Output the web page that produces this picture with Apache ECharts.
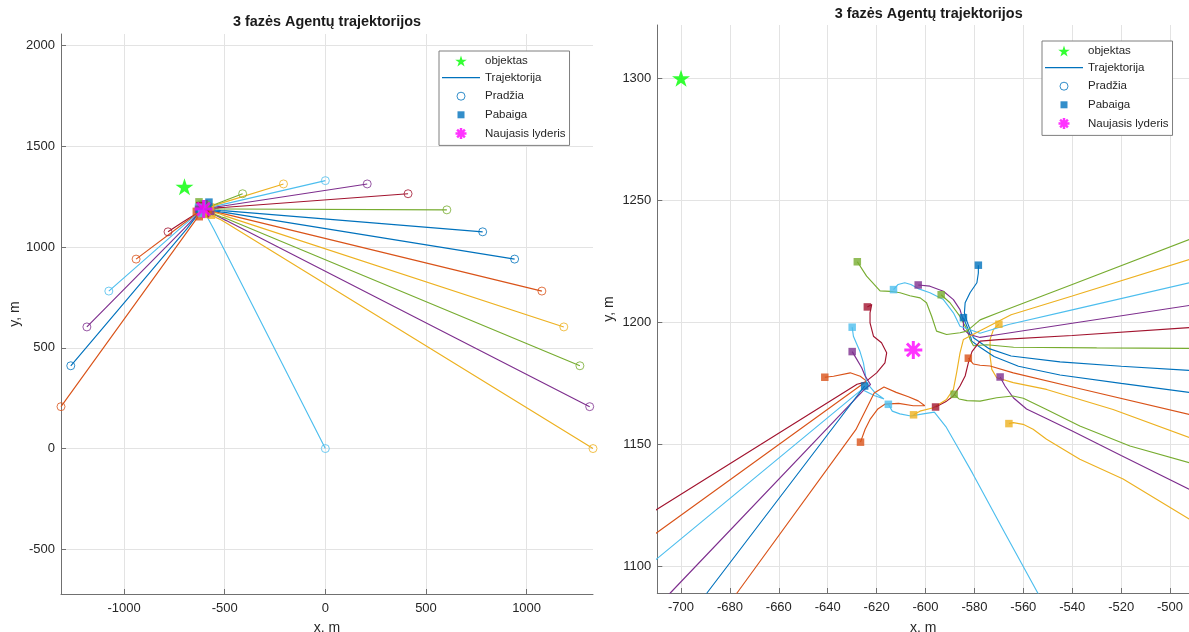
<!DOCTYPE html>
<html>
<head>
<meta charset="utf-8">
<script src="https://cdn.jsdelivr.net/npm/echarts@6.0.0/dist/echarts.min.js"></script>
<style>
  html, body { margin: 0; padding: 0; background: #ffffff; }
  #chart { width: 1189px; height: 632px; }
</style>
</head>
<body>
<div id="chart"></div>
<script>
// Agent trajectories, [x, y] in metres: first point = start, last point = final position.
const agent01 = [[1330, 0], [-492.2, 1119.4], [-519.2, 1135.8], [-536.9, 1143.9], [-550.5, 1152.1], [-556, 1156.2], [-560.1, 1158.2], [-564.1, 1158.9], [-565.9, 1158.5]];
const agent02 = [[1313.6, 208], [-492.2, 1131.6], [-520, 1145.4], [-540, 1155.5], [-551, 1160.8], [-558.7, 1164.5], [-564.1, 1169.1], [-567.5, 1173.9], [-569.5, 1177.6]];
const agent03 = [[1265, 411], [-492.2, 1142.5], [-516.4, 1149.3], [-536.9, 1157.5], [-550.5, 1164.3], [-560, 1168.9], [-564.3, 1169.8], [-570.9, 1169.1], [-577.7, 1167.7], [-583, 1167.9], [-586.3, 1168.6], [-588.3, 1170.5]];
const agent04 = [[1185, 603.8], [-492.2, 1152.8], [-523.3, 1164.3], [-550.5, 1172.5], [-564.1, 1175.3], [-570.9, 1177.3], [-572.9, 1180.7], [-573.6, 1186.1], [-573.6, 1193], [-572.2, 1197.1], [-570, 1199.2]];
const agent05 = [[1076, 781.8], [-492.2, 1162.3], [-536.8, 1172.8], [-564.1, 1179.3], [-573.6, 1182.1], [-577.7, 1182.4], [-580.4, 1182.9], [-582.5, 1185.3]];
const agent06 = [[940.5, 940.5], [-492.2, 1171.3], [-520, 1175], [-545, 1178.4], [-562, 1182], [-572, 1186], [-578, 1190], [-581.1, 1192.3], [-581.8, 1195], [-583.1, 1198.4], [-584.5, 1201.9]];
const agent07 = [[781.8, 1076], [-492.2, 1180.3], [-520, 1182], [-545, 1183.8], [-565, 1186.2], [-574, 1189.2], [-580.4, 1193.7], [-581.8, 1197.1], [-583.1, 1200.5], [-584.1, 1203.9], [-583.8, 1208], [-581.8, 1212.1], [-579, 1216.2], [-578.4, 1220.2], [-578.4, 1223.4]];
const agent08 = [[603.8, 1185], [-492.2, 1189.3], [-530, 1189.5], [-564, 1189.8], [-575, 1190.8], [-580.4, 1190.4], [-581.8, 1193], [-583.1, 1197.1], [-586, 1202.5], [-590, 1208], [-593.6, 1211.3]];
const agent09 = [[411, 1265], [-492.2, 1197.8], [-540, 1194.6], [-570, 1192.9], [-577.7, 1192.3], [-581, 1188], [-582.5, 1183.4], [-583.8, 1178], [-585.9, 1173.9], [-588.6, 1169.8], [-591.4, 1167.7], [-595.9, 1165.3]];
const agent10 = [[208, 1313.6], [-492.2, 1206.9], [-540, 1199.6], [-570, 1195], [-577.7, 1193.8], [-582, 1195], [-584.5, 1197.1], [-584.5, 1200.5], [-585.9, 1205.2], [-588.6, 1209.3], [-592.7, 1212.7], [-598.2, 1214.8], [-603, 1215.3]];
const agent11 = [[0, 1330], [-492.2, 1216.2], [-540, 1205.1], [-566, 1199.1], [-577.7, 1195.5], [-585.9, 1198.4], [-588.6, 1203.9], [-592.7, 1209.3], [-598.2, 1212.1], [-603, 1213.8], [-606, 1215.5], [-608.5, 1216.2], [-611.2, 1215.5], [-613.1, 1213.4]];
const agent12 = [[-208, 1313.6], [-492.2, 1225.7], [-540, 1210.8], [-565, 1203.1], [-577.7, 1196.5], [-584.5, 1193], [-585.9, 1187.5], [-587.3, 1179.3], [-588.6, 1172.5], [-591.4, 1168.4], [-596.8, 1165], [-602.3, 1163.6], [-604.9, 1162.1]];
const agent13 = [[-411, 1265], [-492.2, 1233.9], [-540, 1215.5], [-570, 1204], [-577.7, 1201], [-583.1, 1196.4], [-585.9, 1195.7], [-591.4, 1195], [-595.5, 1196.4], [-597.5, 1202.5], [-599.6, 1208], [-602.2, 1210], [-606.4, 1210.9], [-610.4, 1212.1], [-614.5, 1212.7], [-618.6, 1212.9], [-624.1, 1218.9], [-627.9, 1224.8]];
const agent14 = [[-781.8, 1076], [-709.8, 1123.4], [-628, 1174.6], [-624.7, 1175.5], [-620, 1179.3], [-616.6, 1183.4], [-615.9, 1187.5], [-618, 1191.6], [-621.3, 1194.3], [-622.7, 1199.8], [-622.7, 1203.9], [-622, 1207.3], [-623.8, 1206.3]];
const agent15 = [[-940.5, 940.5], [-709.8, 1113.9], [-626, 1174.5], [-624.1, 1175.9], [-626.7, 1177.9], [-630.8, 1179.3], [-637.6, 1177.9], [-641.2, 1177.5]];
const agent16 = [[-1076, 781.8], [-709.8, 1103.2], [-626, 1172.5], [-621, 1170], [-617, 1168.6], [-620.5, 1171], [-624.1, 1175.2], [-624.7, 1179.3], [-625.4, 1183.4], [-626.8, 1188], [-628.1, 1191], [-629.5, 1194.3], [-630, 1198]];
const agent17 = [[-1185, 603.8], [-704.4, 1089.1], [-625, 1172.5], [-622.5, 1174.5], [-624.7, 1178], [-626.1, 1181.4], [-628.1, 1184.8], [-630, 1188]];
const agent18 = [[-1265, 411], [-689.4, 1089.1], [-624.9, 1173.9]];
const agent19 = [[-1313.6, 208], [-677.1, 1089.1], [-628.5, 1156], [-624, 1165], [-621, 1171], [-617, 1173.5], [-612, 1171.3], [-607, 1169.5], [-603, 1167.8], [-600.3, 1165.8], [-605, 1165.8], [-611, 1166.8], [-616.5, 1166.5], [-619.5, 1164.5], [-622.7, 1160.2], [-624.7, 1156.2], [-626.6, 1150.9]];
const agent20 = [[0, 0], [-554.1, 1089.1], [-567.5, 1113.6], [-580.8, 1138.2], [-587, 1149.1], [-591.7, 1157.3], [-596.4, 1163.2], [-601, 1162.5], [-606, 1161.6], [-610.5, 1162.5], [-613.6, 1163.6], [-615.2, 1166.4]];

// Target object and the new leader
const objektas = [[-700, 1300]];
const naujasisLyderis = [[-605, 1188.7]];

// Axis tick values
const xTicksFull = [-1000, -500, 0, 500, 1000];
const yTicksFull = [-500, 0, 500, 1000, 1500, 2000];
const xTicksZoom = [-700, -680, -660, -640, -620, -600, -580, -560, -540, -520, -500];
const yTicksZoom = [1100, 1150, 1200, 1250, 1300];

const agents = [agent01, agent02, agent03, agent04, agent05, agent06, agent07, agent08, agent09, agent10,
                agent11, agent12, agent13, agent14, agent15, agent16, agent17, agent18, agent19, agent20];

// MATLAB default line colour order
const C_BLUE = '#0072BD', C_ORANGE = '#D95319', C_YELLOW = '#EDB120', C_PURPLE = '#7E2F8E',
      C_GREEN = '#77AC30', C_CYAN = '#4DBEEE', C_RED = '#A2142F';
const agentColors = [C_YELLOW, C_PURPLE, C_GREEN, C_YELLOW, C_ORANGE, C_BLUE, C_BLUE, C_GREEN, C_RED, C_PURPLE,
                     C_CYAN, C_YELLOW, C_GREEN, C_RED, C_ORANGE, C_CYAN, C_PURPLE, C_BLUE, C_ORANGE, C_CYAN];

const FONT = '"Liberation Sans", Arial, Helvetica, sans-serif';
const TEXT = '#262626';
const AXIS = '#707070';
const GRIDLINE = '#e3e3e3';

const STAR = 'path://M0,-10L2.245,-3.09L9.511,-3.09L3.633,1.18L5.878,8.09L0,3.82L-5.878,8.09L-3.633,1.18L-9.511,-3.09L-2.245,-3.09Z';
const ASTERISK = 'path://M0,-10L0,10M-10,0L10,0M-7.07,-7.07L7.07,7.07M-7.07,7.07L7.07,-7.07';
const LEGEND_LINE = 'path://M0,0L38,0L38,1.3L0,1.3Z';
const LEGEND_CIRCLE = 'path://M-5.5,-5.5M5.5,5.5M4,0A4,4,0,1,1,-4,0A4,4,0,1,1,4,0Z';
const LEGEND_SQUARE = 'path://M-5.5,-5.5M5.5,5.5M-3.5,-3.5L3.5,-3.5L3.5,3.5L-3.5,3.5Z';

function valueAxis(gridIndex, min, max, ticks, name, isX) {
  return {
    type: 'value', gridIndex, min, max,
    name, nameLocation: 'middle',
    nameGap: isX ? (gridIndex === 0 ? 27 : 28) : (gridIndex === 0 ? 39 : 41),
    nameRotate: isX ? 0 : 90,
    nameTextStyle: { color: TEXT, fontSize: 14, fontFamily: FONT },
    axisLine: { show: true, onZero: false, lineStyle: { color: AXIS, width: 1 } },
    axisTick: { show: true, inside: true, length: 5, customValues: ticks, lineStyle: { color: AXIS, width: 1 } },
    axisLabel: { show: true, customValues: ticks, color: TEXT, fontSize: 13, fontFamily: FONT,
                 margin: isX ? 8 : 6, formatter: v => String(v) },
    splitLine: { show: true, lineStyle: { color: GRIDLINE, width: 1 } }
  };
}

function seriesFor(g) {
  const out = [];
  out.push({
    name: 'objektas', type: 'scatter', xAxisIndex: g, yAxisIndex: g,
    symbol: STAR, symbolSize: [18, 17], data: objektas,
    itemStyle: { color: '#00FF00' }, z: 3, silent: true
  });
  agents.forEach((pts, i) => {
    out.push({
      name: i === 5 ? 'Trajektorija' : 'agentas ' + (i + 1),
      type: 'line', xAxisIndex: g, yAxisIndex: g, data: pts,
      symbol: 'none', showSymbol: false, clip: true,
      lineStyle: { color: agentColors[i], width: 1.15 },
      itemStyle: { color: agentColors[i] }, z: 2, silent: true
    });
  });
  out.push({
    name: 'Pradžia', type: 'scatter', xAxisIndex: g, yAxisIndex: g,
    symbol: 'circle', symbolSize: 8, clip: true,
    data: agents.map((pts, i) => ({ value: pts[0], itemStyle: { borderColor: agentColors[i] } })),
    itemStyle: { color: 'rgba(255,255,255,0)', borderColor: C_BLUE, borderWidth: 1 }, z: 3, silent: true
  });
  out.push({
    name: 'Pabaiga', type: 'scatter', xAxisIndex: g, yAxisIndex: g,
    symbol: 'rect', symbolSize: 7.5, clip: true,
    data: agents.map((pts, i) => ({ value: pts[pts.length - 1], itemStyle: { color: agentColors[i] } })),
    itemStyle: { color: C_BLUE }, z: 4, silent: true
  });
  out.push({
    name: 'Naujasis lyderis', type: 'scatter', xAxisIndex: g, yAxisIndex: g,
    symbol: ASTERISK, symbolSize: 18, data: naujasisLyderis,
    itemStyle: { color: 'none', borderColor: '#FF00FF', borderWidth: 3 }, z: 5, silent: true
  });
  return out;
}

function legendAt(left, top) {
  return {
    left, top, orient: 'vertical',
    itemWidth: 38, itemHeight: 11, itemGap: 4.6,
    padding: [4, 4, 4, 3],
    borderColor: '#7f7f7f', borderWidth: 1, backgroundColor: '#ffffff',
    selectedMode: false,
    textStyle: { color: TEXT, fontSize: 11.5, fontFamily: FONT, lineHeight: 11 },
    data: [
      { name: 'objektas', icon: STAR, itemStyle: { color: '#00FF00', borderWidth: 0 } },
      { name: 'Trajektorija', icon: LEGEND_LINE, itemStyle: { color: C_BLUE, borderWidth: 0 } },
      { name: 'Pradžia', icon: LEGEND_CIRCLE, itemStyle: { color: 'none', borderColor: C_BLUE, borderWidth: 1 } },
      { name: 'Pabaiga', icon: LEGEND_SQUARE, itemStyle: { color: C_BLUE, borderWidth: 0 } },
      { name: 'Naujasis lyderis', icon: ASTERISK, itemStyle: { color: 'none', borderColor: '#FF00FF', borderWidth: 2.5 } }
    ]
  };
}

const chart = echarts.init(document.getElementById('chart'), null, { renderer: 'canvas' });
chart.setOption({
  animation: false,
  backgroundColor: '#ffffff',
  textStyle: { fontFamily: FONT },
  grid: [
    { left: 61, top: 34, width: 532, height: 560, outerBoundsMode: 'none', containLabel: false },
    { left: 657.3, top: 25, width: 531.7, height: 568, outerBoundsMode: 'none', containLabel: false }
  ],
  xAxis: [
    valueAxis(0, -1313.6, 1330, xTicksFull, 'x, m', true),
    valueAxis(1, -709.7, -492.25, xTicksZoom, 'x, m', true)
  ],
  yAxis: [
    valueAxis(0, -722, 2058, yTicksFull, 'y, m', false),
    valueAxis(1, 1089.1, 1321.8, yTicksZoom, 'y, m', false)
  ],
  legend: [legendAt(439, 51), legendAt(1042, 41)],
  graphic: [
    { type: 'text', x: 327, y: 22, silent: true,
      style: { text: '3 fazės Agentų trajektorijos', fill: '#1a1a1a', fontSize: 14.4, fontWeight: 'bold',
               fontFamily: FONT, align: 'center', verticalAlign: 'middle' } },
    { type: 'text', x: 928.7, y: 14.5, silent: true,
      style: { text: '3 fazės Agentų trajektorijos', fill: '#1a1a1a', fontSize: 14.4, fontWeight: 'bold',
               fontFamily: FONT, align: 'center', verticalAlign: 'middle' } }
  ],
  series: seriesFor(0).concat(seriesFor(1))
});
</script>
</body>
</html>
